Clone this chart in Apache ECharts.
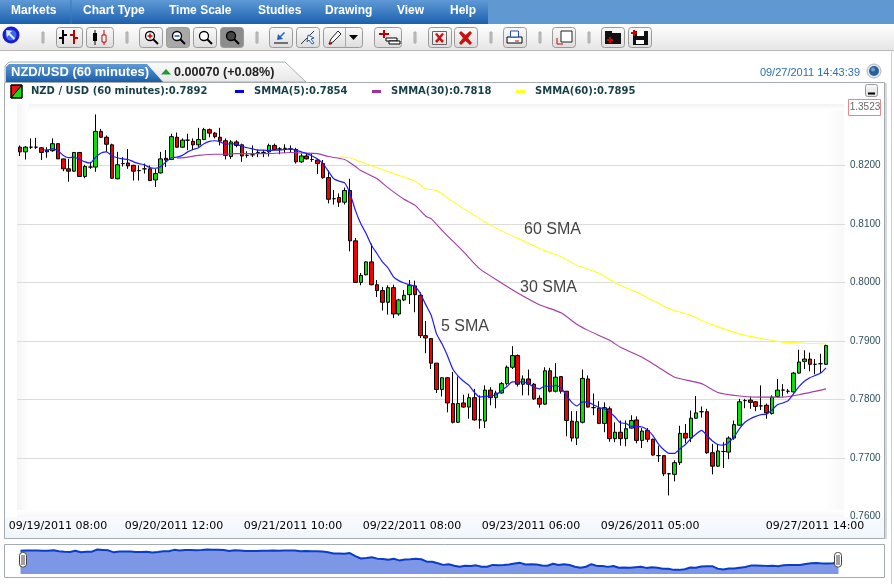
<!DOCTYPE html>
<html>
<head>
<meta charset="utf-8">
<title>NZD/USD</title>
<script src="https://cdn.jsdelivr.net/npm/echarts@6/dist/echarts.min.js"></script>
<style>
html,body{margin:0;padding:0;background:#fff;}
#chart{width:894px;height:584px;}
</style>
</head>
<body>
<div id="chart"></div>
<script>
// prices, in 1/10000
var opens = [8231,8223,8231,8231,8230,8226,8225,8237,8211,8194,8190,8222,8181,8197,8197,8258,8248,8235,8177,8203,
8204,8200,8191,8194,8194,8175,8187,8212,8210,8248,8231,8243,8241,8235,8244,8261,8255,8248,8242,8215,
8240,8235,8217,8218,8222,8222,8223,8234,8228,8229,8228,8227,8206,8216,8210,8209,8203,8179,8143,8145,
8137,8157,8071,8000,8013,8035,7996,7986,7966,7991,7946,7970,7979,7994,7978,7909,7904,7862,7817,7837,
7793,7761,7794,7787,7803,7765,7763,7816,7803,7811,7827,7855,7875,7826,7835,7826,7802,7792,7849,7814,
7839,7814,7763,7734,7761,7835,7786,7785,7759,7784,7733,7744,7733,7751,7765,7730,7747,7732,7704,7704,
7673,7672,7692,7742,7734,7768,7779,7779,7709,7686,7711,7710,7734,7756,7798,7799,7796,7789,7790,7776,
7805,7816,7814,7813,7845,7865,7869,7860,7861,7860];
var closes = [8223,8231,8231,8231,8222,8223,8237,8211,8194,8190,8222,8181,8198,8197,8258,8248,8236,8178,8201,8203,
8199,8190,8191,8194,8174,8186,8211,8209,8249,8231,8243,8243,8235,8244,8261,8255,8249,8242,8217,8240,
8234,8216,8217,8218,8222,8222,8234,8227,8228,8229,8228,8206,8216,8211,8210,8203,8179,8142,8143,8137,
8157,8071,8000,8012,8035,7996,7986,7966,7991,7946,7970,7978,7995,7979,7909,7905,7862,7817,7837,7794,
7761,7793,7787,7803,7765,7765,7816,7803,7811,7827,7855,7875,7826,7835,7826,7801,7792,7849,7814,7838,
7814,7764,7734,7762,7836,7787,7786,7759,7786,7733,7744,7733,7750,7764,7730,7746,7732,7705,7704,7673,
7673,7692,7742,7734,7768,7777,7779,7709,7686,7712,7711,7734,7757,7796,7798,7795,7788,7789,7777,7804,
7816,7816,7814,7845,7864,7869,7860,7860,7861,7892];
var lows = [8216,8210,8228,8228,8209,8213,8223,8211,8190,8172,8189,8181,8178,8194,8189,8247,8223,8177,8176,8198,
8194,8174,8174,8186,8173,8163,8186,8197,8209,8230,8230,8226,8226,8231,8243,8248,8246,8234,8210,8211,
8231,8206,8213,8214,8214,8214,8215,8226,8219,8221,8221,8203,8204,8210,8206,8185,8177,8135,8133,8129,
8133,8053,7999,7995,8012,7995,7975,7952,7945,7939,7943,7968,7963,7949,7905,7879,7852,7811,7805,7778,
7759,7760,7786,7767,7764,7750,7751,7790,7785,7810,7824,7852,7822,7807,7807,7799,7786,7791,7812,7812,
7810,7737,7728,7722,7759,7786,7773,7758,7744,7728,7727,7721,7720,7750,7725,7717,7727,7704,7693,7669,
7636,7660,7688,7725,7727,7767,7769,7707,7672,7685,7683,7698,7731,7755,7785,7784,7780,7782,7767,7774,
7804,7805,7810,7812,7844,7852,7848,7843,7845,7859];
var highs = [8234,8233,8246,8247,8231,8231,8246,8237,8211,8211,8222,8222,8201,8206,8287,8262,8251,8237,8223,8214,
8228,8201,8200,8203,8200,8194,8223,8226,8254,8256,8246,8254,8246,8264,8264,8263,8257,8264,8246,8243,
8243,8237,8224,8234,8227,8226,8237,8237,8231,8236,8234,8230,8220,8221,8220,8211,8209,8191,8158,8152,
8162,8177,8076,8016,8036,8066,8004,7992,7995,7996,7972,7987,8004,8003,7983,7934,7904,7862,7838,7838,
7847,7839,7808,7810,7818,7807,7824,7821,7815,7830,7858,7891,7877,7841,7851,7828,7807,7855,7854,7862,
7839,7814,7780,7780,7851,7841,7810,7797,7795,7788,7761,7764,7764,7773,7771,7751,7751,7733,7721,7704,
7674,7696,7755,7758,7781,7806,7788,7784,7724,7724,7727,7737,7764,7801,7801,7805,7797,7824,7793,7807,
7835,7826,7818,7847,7885,7884,7880,7869,7878,7894];

// SMMA(5), one reading per candle, starts at the fifth
var sma5 = [null,null,null,null,8227,8226,8228,8225,8217,8213,8214,8210,8206,8204,8214,8221,8223,8216,8213,8211,
8210,8206,8203,8201,8196,8195,8198,8206,8213,8214,8217,8223,8227,8230,8237,8241,8242,8240,8236,8237,
8236,8233,8230,8228,8226,8226,8225,8226,8226,8227,8228,8226,8223,8220,8216,8211,8203,8190,8177,8173,
8170,8152,8123,8100,8083,8063,8049,8035,8025,8010,8003,7999,7996,7993,7981,7962,7944,7912,7895,7875,
7852,7840,7831,7824,7812,7804,7805,7806,7808,7815,7822,7830,7830,7830,7827,7821,7818,7823,7822,7824,
7820,7807,7795,7789,7796,7795,7791,7786,7784,7778,7770,7760,7759,7754,7754,7753,7748,7738,7724,7714,
7708,7708,7716,7723,7733,7741,7747,7738,7729,7723,7722,7727,7736,7750,7761,7767,7771,7774,7775,7782,
7791,7794,7798,7810,7822,7831,7837,7841,7845,7854];

// SMMA(30) and SMMA(60) are smooth, read at these candle positions
var sma30Idx = [29,31,33,36,38,40,43,46,50,52,55,57,60,62,63,66,68,71,73,75,76,78,82,85,89,92,96,100,103,105,109,111,115,118,121,126,129,133,137,141,144,149];
var sma30 = [8212,8214,8217,8219,8219,8220,8220,8220,8222,8221,8220,8215,8210,8198,8191,8177,8162,8142,8132,8113,8109,8089,8052,8023,7999,7982,7962,7948,7928,7918,7901,7889,7872,7855,7838,7827,7812,7806,7804,7804,7808,7818];
var sma60Idx = [59,61,63,66,70,73,75,77,81,86,89,93,96,100,103,107,110,115,120,124,126,129,133,137,141,145,149];
var sma60 = [8214,8213,8206,8196,8183,8173,8160,8157,8132,8103,8088,8071,8058,8044,8029,8016,7999,7979,7955,7944,7935,7924,7912,7904,7898,7896,7895];

var tickIdx = [0,22,44,66,88,110,149];
var tickText = ['09/19/2011 08:00','09/20/2011 12:00','09/21/2011 10:00','09/22/2011 08:00','09/23/2011 06:00','09/26/2011 05:00','09/27/2011 14:00'];

function price(v){ return v == null ? null : v / 10000; }

var categories = [];
var candles = [];
var overview = [];
for (var i = 0; i < opens.length; i++) {
    categories.push(String(i));
    candles.push([price(opens[i]), price(closes[i]), price(lows[i]), price(highs[i])]);
    overview.push(price(closes[i]));
}
// empty room right of the last candle
categories.push('a', 'b', 'c');

function pairs(idx, vals){
    var out = [];
    for (var i = 0; i < idx.length; i++) { out.push([idx[i], price(vals[i])]); }
    return out;
}

// page furniture helpers
var items = [];
function rc(x, y, w, h, fill, stroke, r, z){
    items.push({type:'rect', z: z == null ? -1 : z, silent:true, shape:{x:x, y:y, width:w, height:h, r:r || 0},
        style:{fill:fill || 'none', stroke:stroke || 'none', lineWidth:1}});
}
function ln(x1, y1, x2, y2, color, w, z){
    items.push({type:'line', z: z == null ? -1 : z, silent:true, shape:{x1:x1, y1:y1, x2:x2, y2:y2},
        style:{stroke:color, lineWidth:w || 1}});
}
function ci(cx, cy, r, fill, stroke, w){
    items.push({type:'circle', z:-1, silent:true, shape:{cx:cx, cy:cy, r:r},
        style:{fill:fill || 'none', stroke:stroke || 'none', lineWidth:w || 1}});
}
function pg(points, fill, stroke){
    items.push({type:'polygon', z:-1, silent:true, shape:{points:points}, style:{fill:fill, stroke:stroke || 'none', lineWidth:1}});
}
function tx(x, y, text, font, color, align, z){
    items.push({type:'text', z: z == null ? 5 : z, silent:true, x:x, y:y,
        style:{text:text, font:font, fill:color, textAlign:align || 'left', textVerticalAlign:'middle'}});
}
function vgrad(a, b){ return {type:'linear', x:0, y:0, x2:0, y2:1, colorStops:[{offset:0, color:a},{offset:1, color:b}]}; }
function hgrad(a, b){ return {type:'linear', x:0, y:0, x2:1, y2:0, colorStops:[{offset:0, color:a},{offset:1, color:b}]}; }

// menu bar
rc(0, 0, 894, 24, '#6098d2');
rc(0, 0, 488, 24, vgrad('#5f9ad6', '#1c60ad'));
ln(71, 0, 71, 24, '#3f78b8', 1);
var menuText = ['Markets','Chart Type','Time Scale','Studies','Drawing','View','Help'];
var menuX = [11,83,169,258,325,397,450];
for (var m = 0; m < menuText.length; m++) {
    tx(menuX[m], 11, menuText[m], 'bold 12px "Liberation Sans"', '#fff');
}

// toolbar
rc(0, 24, 894, 26, vgrad('#ffffff', '#e6e6e6'));
ln(0, 50.5, 894, 50.5, '#b8b8b8', 1);
ln(891.5, 50, 891.5, 584, '#d0d0d0', 1);
ci(11, 35, 8.5, '#1a1ad0');
ci(11, 35, 5.5, '#3a6ae8');
pg([[6,30],[12,31],[10,33],[15,38],[14,40],[9,35],[7,37]], '#dfe9ff');
var seps = [42,126,256,414,490,539,588];
for (var s = 0; s < seps.length; s++) { rc(seps[s], 32, 2, 11, '#c4c4c4', '#aaa'); }
var btnX = [56,86,139,166,193,220,269,296,323,374,428,454,503,552,601,628];
var btnW = [26,27,23,23,23,23,23,23,39,27,23,23,23,23,23,23];
for (var b = 0; b < btnX.length; b++) {
    var fill = vgrad('#fbfbfb', '#dcdcdc');
    if (b == 3) fill = '#a8a8a8';
    if (b == 5) fill = '#8c8c8c';
    rc(btnX[b] + 0.5, 27.5, btnW[b], 20, fill, '#9a9a9a', 3);
}
// button glyphs
ln(63, 30, 63, 44, '#000', 2); ln(59, 38, 63, 38, '#000', 2); ln(63, 35, 67, 35, '#000', 2);
ln(74, 30, 74, 44, '#c00000', 2); ln(70, 35, 74, 35, '#c00000', 2); ln(74, 38, 78, 38, '#c00000', 2);
ln(95, 30, 95, 45, '#000', 1); rc(93, 33, 4, 8, '#000');
ln(104, 30, 104, 45, '#c00000', 1); rc(102, 35, 4, 7, '#fff', '#c00000');
var zoomX = [150,177,204,231];
for (var z = 0; z < zoomX.length; z++) {
    ci(zoomX[z], 36, 4.5, z == 3 ? '#444' : '#fff', '#000', 1.3);
    ln(zoomX[z] + 3, 39, zoomX[z] + 8, 44, '#000', 2);
}
ln(147.5, 36, 152.5, 36, '#d00000', 1.5); ln(150, 33.5, 150, 38.5, '#d00000', 1.5);
ln(174.5, 36, 179.5, 36, '#2050c0', 1.5);
ln(274, 43, 288, 43, '#000', 1); pg([[284,32],[285,33],[281,37],[283,39],[277,40],[278,34],[280,36]], '#2060c0');
ln(301, 44, 314, 31, '#333', 1); pg([[308,35],[314,38],[311,39],[314,43],[312,44],[309,40],[307,42]], '#fff', '#2060c0');
pg([[329,44],[331,39],[338,31],[341,34],[333,42]], '#fff', '#222'); ln(329, 44, 332, 43, '#c00000', 2);
ln(345.5, 28, 345.5, 47, '#aaa', 1); pg([[349,35],[358,35],[353.5,40]], '#000');
ln(379, 34, 389, 34, '#c00000', 2); ln(384, 30, 384, 38, '#c00000', 2); rc(386, 38, 11, 3, '#fff', '#000'); rc(389, 41, 11, 3, '#fff', '#000');
rc(432.5, 31.5, 14, 13, 'none', '#666'); pg([[435,34],[437,33],[439.5,36],[442,33],[444,34],[441,38],[444,41],[442,43],[439.5,40],[437,43],[435,41],[438,38]], '#c81010');
pg([[459,33],[461,31],[465.5,35],[470,31],[472,33],[468,38],[472,43],[470,45],[465.5,41],[461,45],[459,43],[463,38]], '#c81010');
rc(507, 37, 15, 6, '#fff', '#000'); rc(510.5, 31, 8, 6, '#fff', '#2050c0'); ln(515, 41, 519, 41, '#d00000', 1);
rc(561, 31, 11, 11, '#fff', '#222'); ln(557, 38, 557, 44, '#d00000', 1); ln(557, 44, 563, 44, '#d00000', 1);
rc(605, 33, 16, 11, '#111'); rc(605, 31, 7, 3, '#111'); ln(607, 40, 613, 40, '#d00000', 2); ln(610, 37, 610, 43, '#d00000', 2);
rc(633, 31, 15, 14, '#111'); rc(637, 31, 7, 5, '#fff'); rc(636, 40, 8, 4, '#fff'); ln(631, 33, 637, 33, '#d00000', 2); ln(634, 30, 634, 36, '#d00000', 2);

// tab strip
pg([[5,82],[5,66],[9,62],[285,62],[306,82]], vgrad('#fafafa', '#e8e8e8'), '#a8b0b4');
pg([[6,82],[6,67],[9,64],[147,64],[163,82]], vgrad('#5f9ad6', '#1a5ea8'));
tx(11, 72.5, 'NZD/USD (60 minutes)', 'bold 13px "Liberation Sans"', '#fff');
pg([[161,74.5],[171,74.5],[166,69]], '#1e9a30');
tx(174, 72.5, '0.00070 (+0.08%)', 'bold 12.6px "Liberation Sans"', '#222');
tx(860, 72.5, '09/27/2011 14:43:39', '11px "Liberation Sans"', '#2a6fb0', 'right');
ci(874, 71, 7, '#e4e8ec', '#b0b4b8');
ci(874, 71, 5, '#2a5f9e');
ci(873, 69.5, 2, '#6f9fd0');

// chart panel
rc(4.5, 82.5, 880, 456, '#fff', '#a4acb0');
ln(886, 83, 886, 539, '#c8cccf', 1.5);
rc(5, 517, 879, 21, vgrad('#f8fafd', '#f1f6fc'));
rc(17, 104, 827, 6, vgrad('#f2f2f2', '#ffffff'));
rc(17, 104, 12, 413, hgrad('#f4f4f4', '#ffffff'));
rc(825, 110, 19, 407, hgrad('#ffffff', '#f8f8f8'));
rc(17, 510, 827, 7, vgrad('#ffffff', '#f6f6f6'));

// legend row
pg([[11,85],[22,85],[11,98]], '#f01010', '#000');
pg([[22,85],[22,98],[11,98]], '#10e010', '#000');
rc(11, 85, 11, 13, 'none', '#000');
var legendFont = 'bold 10px "DejaVu Sans"';
tx(31, 91.5, 'NZD / USD (60 minutes):0.7892', legendFont, '#163f4a');
rc(235, 90, 9, 3, '#0000f0');
tx(254, 91.5, 'SMMA(5):0.7854', legendFont, '#163f4a');
rc(372, 90, 9, 3, '#a030a0');
tx(391, 91.5, 'SMMA(30):0.7818', legendFont, '#163f4a');
rc(516, 90, 9, 3, '#ffff20');
tx(535, 91.5, 'SMMA(60):0.7895', legendFont, '#163f4a');
rc(865.5, 84.5, 12, 12, vgrad('#fafafa', '#dcdcdc'), '#999', 2);
ln(868, 93.5, 875, 93.5, '#000', 2);
rc(848.5, 99.5, 32, 16, '#fff', '#e88888');
tx(865, 107.5, '1.3523', '10px "Liberation Sans"', '#666', 'center');

// notes on the averages
var noteFont = '16px "Liberation Sans"';
tx(524, 230, '60 SMA', noteFont, '#444');
tx(520, 288, '30 SMA', noteFont, '#444');
tx(441, 327, '5 SMA', noteFont, '#444');

// overview panel
rc(4.5, 544.5, 880, 33, '#fff', '#a4acb0');
function handle(cx){
    rc(cx - 3.5, 552.5, 7, 14.5, '#fff', '#444', 3, 6);
    ln(cx - 1, 555, cx - 1, 565, '#444', 1, 7);
    ln(cx + 1, 555, cx + 1, 565, '#444', 1, 7);
}
handle(23);
handle(838);

var chart = echarts.init(document.getElementById('chart'));
chart.setOption({
    animation: false,
    graphic: {elements: items},
    grid: [
        {left: 17.3, top: 106.8, width: 827.7, height: 409.7},
        {left: 20.5, top: 549, width: 818, height: 25}
    ],
    xAxis: [
        {
            type: 'category',
            data: categories,
            boundaryGap: true,
            axisLine: {show: false},
            axisTick: {show: false},
            splitLine: {show: false},
            axisLabel: {
                margin: 4,
                interval: function(i){ return tickIdx.indexOf(i) >= 0; },
                formatter: function(v, i){
                    var k = tickIdx.indexOf(i);
                    if (k < 0) return '';
                    var style = k == 0 ? 'a' : (k == tickIdx.length - 1 ? 'b' : 'c');
                    return '{' + style + '|' + tickText[k] + '}';
                },
                rich: {
                    a: {fontSize: 11, fontFamily: 'DejaVu Sans', color: '#000', padding: [0, 0, 0, 76]},
                    b: {fontSize: 11, fontFamily: 'DejaVu Sans', color: '#000', padding: [0, 22, 0, 0]},
                    c: {fontSize: 11, fontFamily: 'DejaVu Sans', color: '#000', padding: [0, 0, 0, 70]}
                }
            }
        },
        {
            type: 'category',
            gridIndex: 1,
            data: categories.slice(0, opens.length),
            boundaryGap: false,
            show: false
        }
    ],
    yAxis: [
        {
            type: 'value',
            position: 'right',
            min: 0.76,
            max: 0.83,
            interval: 0.01,
            axisLine: {show: false},
            axisTick: {show: false},
            splitLine: {show: true, showMinLine: false, showMaxLine: false, lineStyle: {color: '#dcdcdc', width: 1}},
            axisLabel: {
                showMaxLabel: false,
                margin: 5,
                color: '#2f5060',
                fontSize: 10,
                fontFamily: 'Liberation Sans',
                padding: [0, 0, 6, 0],
                formatter: function(v){ return v.toFixed(4); }
            }
        },
        {
            type: 'value',
            gridIndex: 1,
            min: 0.7554,
            max: 0.8274,
            show: false,
            splitLine: {show: false}
        }
    ],
    series: [
        {
            name: 'NZD / USD',
            type: 'candlestick',
            data: candles,
            barWidth: 4,
            itemStyle: {
                color: '#00e400',
                color0: '#f20000',
                borderColor: '#000',
                borderColor0: '#000',
                borderColorDoji: '#000',
                borderWidth: 1
            }
        },
        {
            name: 'SMMA(5)',
            type: 'line',
            data: sma5.map(price),
            showSymbol: false,
            smooth: 0.2,
            z: 4,
            lineStyle: {color: '#1a1aff', width: 1.2}
        },
        {
            name: 'SMMA(30)',
            type: 'line',
            data: pairs(sma30Idx, sma30),
            showSymbol: false,
            smooth: 0.2,
            z: 3,
            lineStyle: {color: '#a43ca4', width: 1.1}
        },
        {
            name: 'SMMA(60)',
            type: 'line',
            data: pairs(sma60Idx, sma60),
            showSymbol: false,
            smooth: 0.2,
            z: 3,
            lineStyle: {color: '#ffff20', width: 1.1}
        },
        {
            name: 'overview',
            type: 'line',
            xAxisIndex: 1,
            yAxisIndex: 1,
            data: overview,
            showSymbol: false,
            lineStyle: {color: '#0a3cc8', width: 2},
            areaStyle: {color: '#7d97e6', opacity: 1}
        }
    ]
});
</script>
</body>
</html>
